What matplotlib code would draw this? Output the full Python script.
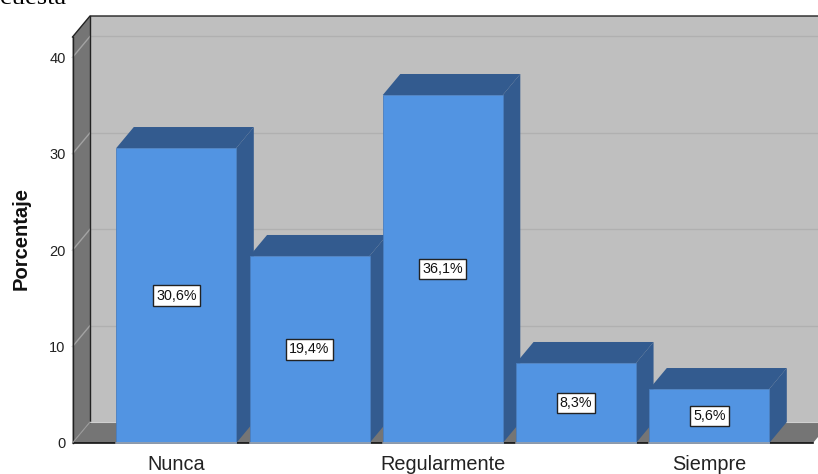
import matplotlib
matplotlib.use("Agg")
import matplotlib.pyplot as plt
from matplotlib.patches import Polygon

plt.rcParams['font.family'] = ['Liberation Sans', 'DejaVu Sans']

categorias = ["Nunca", "", "Regularmente", "", "Siempre"]
porcentajes = [30.6, 19.4, 36.1, 8.3, 5.6]
etiquetas = ["30,6%", "19,4%", "36,1%", "8,3%", "5,6%"]
ticks_y = [0, 10, 20, 30, 40]

FRENTE = "#5294e2"
LADO = "#335b8f"
PARED = "#bfbfbf"
SUELO = "#757575"
W, H = 818, 474

# escalas en pixeles: las barras van cada 133 px, 9.64 px por unidad
PX_X = 133.25
PX_Y = 9.64
x0_px, y0_px = 176.3, 443.0
dx = 17.5 / PX_X
dy = 21.0 / PX_Y
ancho = 120.0 / PX_X
x_izq = (72.5 - x0_px) / PX_X
x_der = (813.0 - x0_px) / PX_X
y_sup = (y0_px - 37.0) / PX_Y

fig = plt.figure(figsize=(W / 100, H / 100), dpi=100)
ax = fig.add_axes([0, 0, 1, 1])
ax.set_xlim(-x0_px / PX_X, (W - x0_px) / PX_X)
ax.set_ylim((y0_px - H) / PX_Y, y0_px / PX_Y)
ax.axis("off")


def poly(puntos, color, edge="none", lw=0, z=1):
    ax.add_patch(Polygon(puntos, closed=True, facecolor=color, edgecolor=edge, linewidth=lw, zorder=z))


# pared del fondo, pared izquierda y suelo
poly([(x_izq + dx, dy), (x_der + dx, dy), (x_der + dx, y_sup + dy), (x_izq + dx, y_sup + dy)], PARED)
poly([(x_izq, 0), (x_izq + dx, dy), (x_izq + dx, y_sup + dy), (x_izq, y_sup)], SUELO)
poly([(x_izq, 0), (x_der, 0), (x_der + dx, dy), (x_izq + dx, dy)], SUELO)

# lineas de rejilla
for t in ticks_y[1:]:
    ax.plot([x_izq, x_izq + dx], [t, t + dy], color="#a3a3a3", lw=1.0, zorder=2)
    ax.plot([x_izq + dx, x_der + dx], [t + dy, t + dy], color="#b0b0b0", lw=1.0, zorder=2)

# bordes oscuros
ax.plot([x_izq + dx, x_izq + dx], [dy, y_sup + dy], color="#222222", lw=1.0, zorder=3)
ax.plot([x_izq, x_izq + dx, x_der + dx], [y_sup, y_sup + dy, y_sup + dy], color="#222222", lw=1.0, zorder=3)
ax.plot([x_izq, x_izq], [0, y_sup], color="#222222", lw=1.0, zorder=3)
ax.plot([x_izq, x_der], [0, 0], color="#111111", lw=1.2, zorder=3)
ax.plot([x_izq + dx, x_der + dx], [dy, dy], color="#d0d0d0", lw=0.8, zorder=3)
ax.plot([x_izq, x_izq + dx], [0, dy], color="#9a9a9a", lw=0.8, zorder=3)

# barras
pos = list(range(len(porcentajes)))
for i, v in zip(pos, porcentajes):
    izq = i - ancho / 2
    der = i + ancho / 2
    poly([(der, 0), (der + dx, dy), (der + dx, v + dy), (der, v)], LADO, z=4 + i)
    poly([(izq, v), (der, v), (der + dx, v + dy), (izq + dx, v + dy)], LADO, z=4 + i)
    ax.bar(i, v, width=ancho, color=FRENTE, edgecolor="#4a7fc0", linewidth=0.6, zorder=4 + i)
    ax.plot([izq, der], [0, 0], color="#9aa0a8", lw=1.2, zorder=4 + i)
    ax.text(i, v / 2, etiquetas[i], ha="center", va="center", fontsize=10.3, color="#111111", zorder=20,
            bbox=dict(boxstyle="square,pad=0.22", facecolor="white", edgecolor="#222222", linewidth=1.0))

# ejes
for t in ticks_y:
    ax.text(x_izq - 7 / PX_X, t + 1.0 / PX_Y - 0.25, str(t), ha="right", va="center", fontsize=10.5, color="#222222")
for i, c in zip(pos, categorias):
    ax.text(i, -2.25, c, ha="center", va="center", fontsize=14.3, color="#222222")
ax.text(-155 / PX_X, (y0_px - 239) / PX_Y, "Porcentaje", rotation=90, ha="center", va="center",
        fontsize=14.5, fontweight="bold", color="#111111")

# resto del titulo cortado por arriba
ax.text(-x0_px / PX_X, y0_px / PX_Y - 4.5 / PX_Y, "cuesta", ha="left", va="baseline", fontsize=19,
        family=["Liberation Serif"], color="black", clip_on=True)

fig.savefig("out.png", dpi=100)
plt.close(fig)
